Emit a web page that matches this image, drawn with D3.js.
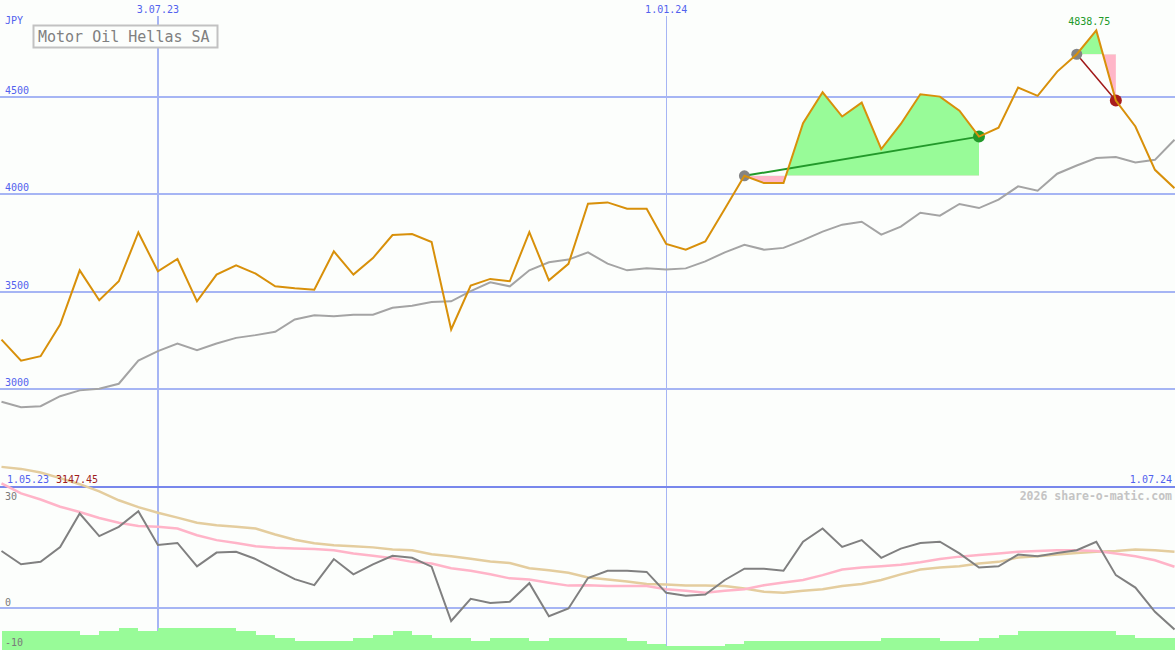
<!DOCTYPE html>
<html>
<head>
<meta charset="utf-8">
<script src="https://cdn.jsdelivr.net/npm/d3@7"></script>
<style>
	body { margin: 0; background: #fcfefc; }
	svg { display: block; }
	text { font-family: "DejaVu Sans Mono", monospace; }
</style>
</head>
<body>
<div id="chart"></div>
<script>

	// weekly closes, Monday 8.05.23 .. Monday 1.07.24
	const dates = d3.timeMonday.range(new Date(2023, 4, 8), new Date(2024, 6, 2))

	const price = [3255, 3147.45, 3170, 3332, 3610, 3457, 3554, 3804, 3605, 3668,
		3451, 3588, 3636, 3593, 3528, 3518, 3511, 3707, 3588, 3673,
		3791, 3796, 3755, 3307, 3532, 3566, 3554, 3806, 3559, 3643,
		3951, 3958, 3926, 3926, 3745, 3716, 3758, 3925, 4094, 4057,
		4057, 4364, 4522, 4398, 4469, 4231, 4360, 4512, 4500, 4428,
		4295, 4341, 4546, 4504, 4628, 4717, 4838.75, 4480, 4347, 4125,
		4031]

	const average = [2937, 2909, 2914, 2965, 2995, 3003, 3029, 3148, 3196, 3235,
		3201, 3235, 3264, 3278, 3295, 3358, 3380, 3375, 3383, 3383,
		3418, 3429, 3448, 3451, 3503, 3549, 3528, 3610, 3651, 3665,
		3702, 3644, 3610, 3620, 3614, 3620, 3656, 3702, 3741, 3716,
		3725, 3765, 3808, 3844, 3859, 3793, 3834, 3905, 3890, 3950,
		3929, 3972, 4040, 4018, 4105, 4147, 4185, 4190, 4162, 4176,
		4279]

	const osc = [14.1, 10.8, 11.4, 15.1, 23.4, 17.8, 20.1, 24.0, 15.6, 16.1,
		10.3, 13.7, 13.9, 12.1, 9.6, 7.1, 5.6, 12.1, 8.3, 10.8,
		12.9, 12.4, 10.2, -3.3, 2.2, 1.2, 1.5, 6.1, -2.1, -0.2,
		7.4, 9.2, 9.2, 8.9, 3.7, 3.0, 3.3, 6.9, 9.7, 9.7,
		9.2, 16.4, 19.7, 15.1, 16.8, 12.4, 14.7, 16.1, 16.4, 13.5,
		10.0, 10.3, 13.2, 12.8, 13.6, 14.3, 16.4, 8.1, 5.0, -1.0,
		-5.4]

	const oscFast = [30.9, 28.4, 26.9, 25.1, 23.8, 22.3, 21.1, 20.3, 20.1, 19.7,
		18.0, 16.8, 16.1, 15.3, 14.9, 14.7, 14.6, 14.3, 13.5, 12.9,
		12.3, 11.4, 11.0, 9.8, 9.2, 8.3, 7.3, 7.0, 6.2, 5.5,
		5.6, 5.4, 5.4, 5.4, 4.6, 4.2, 3.7, 4.2, 4.6, 5.6,
		6.3, 6.9, 8.1, 9.5, 10.0, 10.3, 10.7, 11.3, 12.1, 12.7,
		13.1, 13.5, 13.9, 14.1, 14.3, 14.3, 14.1, 13.5, 12.8, 11.8,
		10.2]

	const oscSlow = [35.0, 34.5, 33.6, 32.2, 30.7, 28.9, 26.7, 25.0, 23.6, 22.4,
		21.1, 20.5, 20.1, 19.7, 18.2, 16.9, 16.0, 15.5, 15.3, 15.0,
		14.5, 14.3, 13.3, 12.8, 12.2, 11.5, 11.1, 9.8, 9.3, 8.7,
		7.5, 7.0, 6.5, 5.9, 5.8, 5.5, 5.5, 5.4, 4.8, 4.0,
		3.7, 4.2, 4.6, 5.4, 5.9, 6.9, 8.3, 9.5, 10.0, 10.3,
		11.0, 11.4, 12.5, 12.8, 13.2, 13.6, 13.9, 14.1, 14.5, 14.3,
		13.9]

	const volume = [-5.7, -5.7, -5.7, -5.7, -6.7, -5.7, -5.0, -5.7, -5.0, -5.0,
		-5.0, -5.0, -5.7, -6.7, -7.4, -8.2, -8.2, -8.2, -7.4, -6.7,
		-5.7, -6.7, -7.4, -7.4, -8.2, -7.4, -7.4, -8.2, -7.4, -7.4,
		-7.4, -7.4, -8.2, -8.9, -9.6, -9.6, -9.6, -8.9, -8.2, -8.2,
		-8.2, -8.2, -8.2, -8.2, -8.2, -7.4, -7.4, -7.4, -8.2, -8.2,
		-7.4, -6.7, -5.7, -5.7, -5.7, -5.7, -5.7, -6.7, -7.4, -7.4,
		-7.4]

	const priceTicks = [3000, 3500, 4000, 4500]
	const oscTicks = [30, 0, -10]
	const dateTicks = [new Date(2023, 6, 3), new Date(2024, 0, 1)]
	const dateTickLabels = ['3.07.23', '1.01.24']

	// trades: [entry index, exit index]
	const trades = [[38, 50], [55, 57]]

	const W = 1175, H = 650
	const blue = '#5262ee', grid = '#a6b5f4'

	let x = d3.scaleTime().domain([dates[0], dates[dates.length - 1]]).range([1.5, 1174.5])
	let y = d3.scaleLinear().domain([2500, 5000]).range([487, -1])
	let yB = d3.scaleLinear().domain([-10, 30]).range([648, 487])

	var svg = d3.select('#chart').append('svg').attr('width', W).attr('height', H)
	let defs = svg.append('defs')
	svg.append('rect').attr('width', W).attr('height', H).attr('fill', '#fcfefc')

	// vertical grid
	svg.selectAll('.vgrid').data(dateTicks).enter().append('line')
		.attr('x1', d => Math.round(x(d))).attr('x2', d => Math.round(x(d)))
		.attr('y1', 16).attr('y2', H)
		.attr('stroke', grid).attr('stroke-width', (d, i) => i == 0 ? 2 : 1)
		.attr('shape-rendering', 'crispEdges')

	// horizontal grid
	svg.selectAll('.hgrid').data(priceTicks).enter().append('line')
		.attr('x1', 0).attr('x2', W).attr('y1', d => y(d)).attr('y2', d => y(d))
		.attr('stroke', grid).attr('stroke-width', 2).attr('shape-rendering', 'crispEdges')
	svg.append('line').attr('x1', 0).attr('x2', W).attr('y1', yB(0)).attr('y2', yB(0))
		.attr('stroke', grid).attr('stroke-width', 2).attr('shape-rendering', 'crispEdges')
	svg.append('line').attr('x1', 0).attr('x2', W).attr('y1', yB(30)).attr('y2', yB(30))
		.attr('stroke', '#7887ec').attr('stroke-width', 2).attr('shape-rendering', 'crispEdges')

	// lower panel
	let lineB = vals => d3.line().x((d, i) => x(dates[i])).y(d => yB(d))(vals)
	svg.append('path').attr('d', lineB(oscSlow)).attr('fill', 'none').attr('stroke', '#e4cd9e').attr('stroke-width', 2.5)
	svg.append('path').attr('d', lineB(oscFast)).attr('fill', 'none').attr('stroke', '#ffb4c8').attr('stroke-width', 2.5)
	svg.append('path').attr('d', lineB(osc)).attr('fill', 'none').attr('stroke', '#808080').attr('stroke-width', 2)

	svg.append('path').datum(volume)
		.attr('d', d3.area().curve(d3.curveStepAfter).x((d, i) => x(dates[i])).y0(H).y1(d => yB(d)))
		.attr('fill', '#98fb98').attr('shape-rendering', 'crispEdges')

	// upper panel
	svg.append('path').datum(average)
		.attr('d', d3.line().x((d, i) => x(dates[i])).y(d => y(d)))
		.attr('fill', 'none').attr('stroke', '#a4a4a4').attr('stroke-width', 2)

	trades.forEach(([a, b], k) => {
		let base = y(price[a])
		defs.append('clipPath').attr('id', 'up' + k).append('rect').attr('x', 0).attr('y', 0).attr('width', W).attr('height', base)
		defs.append('clipPath').attr('id', 'dn' + k).append('rect').attr('x', 0).attr('y', base).attr('width', W).attr('height', H - base)
		let seg = d3.range(a, b + 1)
		let area = d3.area().x(i => x(dates[i])).y0(base).y1(i => y(price[i]))
		svg.append('path').datum(seg).attr('d', area).attr('fill', '#98fb98').attr('clip-path', `url(#up${k})`)
		svg.append('path').datum(seg).attr('d', area).attr('fill', '#ffb6c8').attr('clip-path', `url(#dn${k})`)
	})

	trades.forEach(([a, b]) => {
		let win = price[b] > price[a]
		svg.append('line')
			.attr('x1', x(dates[a])).attr('y1', y(price[a])).attr('x2', x(dates[b])).attr('y2', y(price[b]))
			.attr('stroke', win ? '#22992a' : '#a01818').attr('stroke-width', win ? 2 : 1.5)
		svg.append('circle').attr('cx', x(dates[a])).attr('cy', y(price[a])).attr('r', 5.5).attr('fill', '#848484')
		svg.append('circle').attr('cx', x(dates[b])).attr('cy', y(price[b])).attr('r', 6).attr('fill', win ? '#22992a' : '#a81c1c')
	})

	svg.append('path').datum(price)
		.attr('d', d3.line().x((d, i) => x(dates[i])).y(d => y(d)))
		.attr('fill', 'none').attr('stroke', '#d8900a').attr('stroke-width', 2)

	// texts
	let text = (s, tx, ty, color, anchor, size) => svg.append('text').text(s)
		.attr('x', tx).attr('y', ty).attr('fill', color).attr('font-size', (size || 10) + 'px')
		.attr('text-anchor', anchor || 'start')

	text('JPY', 5, 24, blue)
	priceTicks.forEach(v => text(String(v), 5, y(v) - 3, blue))
	dateTicks.forEach((d, i) => text(dateTickLabels[i], x(d), 13, blue, 'middle'))
	text(d3.timeFormat('%-d.%m.%y')(new Date(2023, 4, 1)), 7, 483, blue)
	text(d3.timeFormat('%-d.%m.%y')(new Date(2024, 6, 1)), 1172, 483, blue, 'end')

	let iMin = d3.minIndex(price), iMax = d3.maxIndex(price)
	text(price[iMin].toFixed(2), 56, 483, '#a01c1c')
	text(price[iMax].toFixed(2), x(dates[iMax]) - 7, 25, '#22992a', 'middle')

	text('2026 share-o-matic.com', 1172, 500, '#c4c4c4', 'end', 11.5).attr('font-weight', 'bold')

	text(String(oscTicks[0]), 5, yB(oscTicks[0]) + 12.5, '#7a7a7a')
	text(String(oscTicks[1]), 5, yB(oscTicks[1]) - 2, '#7a7a7a')
	text(String(oscTicks[2]), 5, yB(oscTicks[2]) - 2, '#7a7a7a')

	svg.append('rect').attr('x', 33.5).attr('y', 25.5).attr('width', 184).attr('height', 22)
		.attr('fill', '#fcfefc').attr('stroke', '#c2c2c2').attr('stroke-width', 2)
	text('Motor Oil Hellas SA', 38, 41.5, '#808080', 'start', 15)

</script>
</body>
</html>
